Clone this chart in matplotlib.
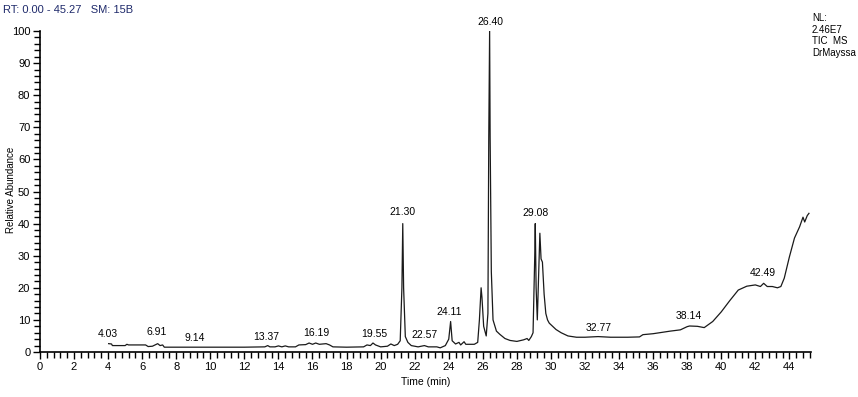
import matplotlib
matplotlib.use("Agg")
import matplotlib.pyplot as plt
from matplotlib.ticker import MultipleLocator

plt.rcParams['font.family'] = ['Liberation Sans', 'DejaVu Sans']

# TIC trace (time in min, relative abundance in %)
time = [4.03, 4.2, 4.25, 5.0, 5.1, 5.2, 6.2, 6.35, 6.6, 6.75, 6.91, 7.05, 7.2, 7.3,
        9.14, 12.0, 13.2, 13.37, 13.5, 13.8, 14.0, 14.2, 14.4, 14.6, 15.0, 15.2,
        15.6, 15.8, 16.0, 16.19, 16.4, 16.8, 17.0, 17.2, 18.0, 19.0, 19.2, 19.4,
        19.55, 19.7, 20.0, 20.4, 20.6, 20.8, 21.0, 21.15, 21.25, 21.30, 21.35,
        21.45, 21.6, 21.8, 22.2, 22.57, 22.8, 23.3, 23.5, 23.8, 24.0, 24.11, 24.2,
        24.4, 24.6, 24.7, 24.9, 25.0, 25.5, 25.7, 25.8, 25.9, 25.95, 26.05, 26.2,
        26.3, 26.35, 26.40, 26.43, 26.5, 26.6, 26.8, 27.0, 27.3, 27.6, 28.0, 28.4,
        28.6, 28.7, 28.85, 28.95, 29.05, 29.08, 29.13, 29.2, 29.28, 29.35, 29.42,
        29.5, 29.6, 29.7, 29.8, 29.9, 30.0, 30.3, 30.6, 31.0, 31.5, 32.0, 32.77,
        33.5, 34.5, 35.2, 35.4, 36.0, 37.0, 37.6, 38.0, 38.14, 38.6, 39.0, 39.5,
        40.0, 40.5, 41.0, 41.5, 42.0, 42.3, 42.49, 42.7, 43.0, 43.3, 43.5, 43.7,
        44.0, 44.3, 44.6, 44.8, 44.9, 45.05, 45.15]
abundance = [2.6, 2.5, 2.0, 2.0, 2.4, 2.2, 2.2, 1.7, 1.8, 2.2, 2.6, 2.0, 2.2, 1.5,
             1.5, 1.5, 1.6, 2.0, 1.6, 1.6, 1.9, 1.6, 1.9, 1.6, 1.6, 2.2,
             2.3, 2.8, 2.4, 2.8, 2.4, 2.6, 2.2, 1.6, 1.5, 1.6, 2.2, 2.0,
             2.8, 2.2, 1.6, 1.8, 2.5, 2.0, 2.4, 3.5, 20.0, 40.0, 20.0,
             4.8, 3.0, 2.0, 1.6, 2.0, 1.6, 1.6, 1.3, 2.0, 4.0, 9.5, 3.5,
             2.5, 3.0, 2.2, 3.2, 2.4, 2.4, 3.0, 10.0, 20.0, 17.0, 8.0, 5.0,
             12.0, 67.0, 100.0, 67.0, 25.0, 10.0, 6.5, 5.5, 4.2, 3.6, 3.3, 3.8,
             4.2, 3.6, 4.8, 6.0, 30.0, 40.0, 20.0, 10.0, 25.0, 37.0, 29.0,
             28.0, 18.0, 12.0, 10.0, 9.0, 8.5, 7.0, 6.0, 5.0, 4.6, 4.6, 4.8,
             4.6, 4.6, 4.7, 5.4, 5.7, 6.5, 6.9, 7.9, 8.1, 8.0, 7.6, 9.5,
             12.5, 16.0, 19.3, 20.5, 20.9, 20.4, 21.4, 20.4, 20.4, 20.0, 20.4, 23.0,
             29.6, 35.5, 39.0, 42.0, 40.5, 42.5, 43.2]

# peak labels: retention time and the height the label sits at
peak_labels = ['4.03', '6.91', '9.14', '13.37', '16.19', '19.55', '21.30', '22.57',
               '24.11', '26.40', '29.08', '32.77', '38.14', '42.49']
label_x = [4.0, 6.84, 9.1, 13.3, 16.2, 19.6, 21.3, 22.6, 24.05, 26.43, 29.1, 32.8, 38.1, 42.46]
label_y = [4.0, 4.7, 2.8, 3.1, 4.4, 4.0, 42.0, 3.7, 10.9, 101.2, 41.7, 5.9, 9.7, 23.0]

W, H = 858, 397
fig = plt.figure(figsize=(W / 100, H / 100), dpi=100)
ax = fig.add_axes([40 / W, 45 / H, 771 / W, 321 / H])

ax.plot(time, abundance, color='#1a1a1a', lw=0.9)

for lab, x, y in zip(peak_labels, label_x, label_y):
    ax.text(x, y, lab, ha='center', va='bottom', fontsize=7.5, color='black', clip_on=False)

ax.set_xlim(0, 45.27)
ax.set_ylim(0, 100)
ax.xaxis.set_major_locator(MultipleLocator(2))
ax.xaxis.set_minor_locator(MultipleLocator(0.4))
ax.yaxis.set_major_locator(MultipleLocator(10))
ax.yaxis.set_minor_locator(MultipleLocator(2))
ax.tick_params(which='major', length=5, width=1, labelsize=8, pad=2)
ax.tick_params(which='minor', length=4, width=1)

for s in ['top', 'right']:
    ax.spines[s].set_visible(False)
for s in ['left', 'bottom']:
    ax.spines[s].set_linewidth(1.2)

ax.set_xlabel('Time (min)', fontsize=7.5, labelpad=4)
fig.text(11 / W, 1 - 190 / H, 'Relative Abundance', fontsize=7, rotation=90,
         ha='center', va='center')

fig.text(3 / W, 1 - 10 / H, 'RT: 0.00 - 45.27   SM: 15B', fontsize=8, color='#1f2a6b',
         va='center', ha='left')
fig.text(812 / W, 1 - 13 / H, 'NL:\n2.46E7\nTIC  MS\nDrMayssa', fontsize=7,
         va='top', ha='left', linespacing=1.2)

plt.savefig('out.png', dpi=100)
